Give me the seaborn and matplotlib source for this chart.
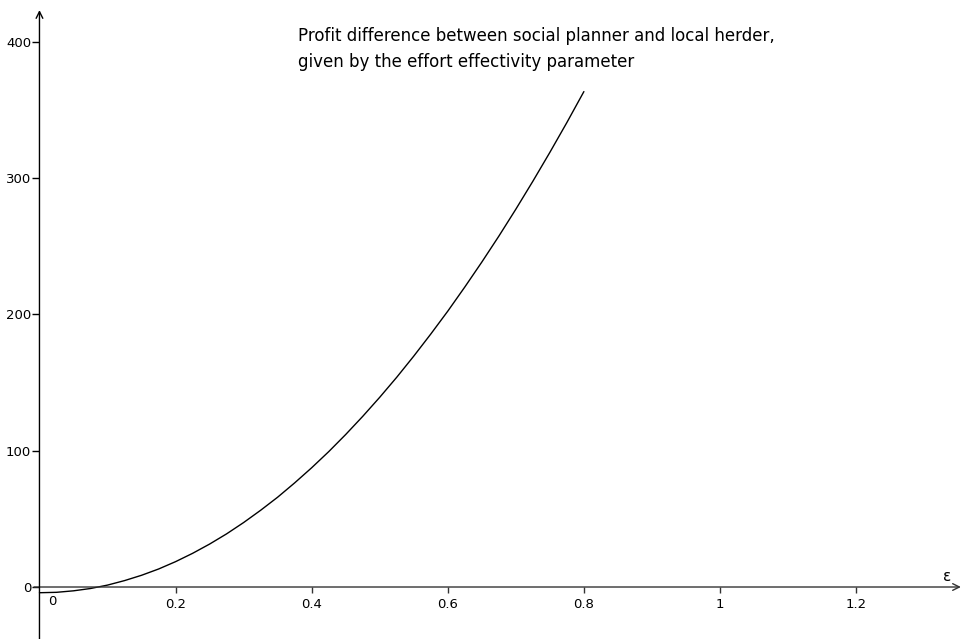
import matplotlib
matplotlib.use("Agg")
import matplotlib.pyplot as plt
import seaborn as sns
import pandas as pd

# Effort effectivity parameter and the profit difference
epsilon = [0.000, 0.025, 0.050, 0.075, 0.100, 0.125, 0.150, 0.175, 0.200,
           0.225, 0.250, 0.275, 0.300, 0.325, 0.350, 0.375, 0.400, 0.425,
           0.450, 0.475, 0.500, 0.525, 0.550, 0.575, 0.600, 0.625, 0.650,
           0.675, 0.700, 0.725, 0.750, 0.775, 0.800]
profit_diff = [-4.2, -3.9, -2.8, -1.1, 1.4, 4.7, 8.6, 13.2, 18.6,
               24.7, 31.5, 39.0, 47.3, 56.3, 65.9, 76.4, 87.5, 99.3,
               111.9, 125.2, 139.2, 153.9, 169.4, 185.6, 202.4, 220.1, 238.4,
               257.4, 277.2, 297.7, 318.9, 340.8, 363.5]

x_ticks = [0.2, 0.4, 0.6, 0.8, 1.0, 1.2]
x_tick_labels = ["0.2", "0.4", "0.6", "0.8", "1", "1.2"]
y_ticks = [0, 100, 200, 300, 400]
y_tick_labels = ["0", "100", "200", "300", "400"]

title_text = ("Profit difference between social planner and local herder,\n"
              "given by the effort effectivity parameter")

sns.set_style("white")
plt.rcParams["font.family"] = ["DejaVu Sans"]
plt.rcParams["text.color"] = "black"
plt.rcParams["xtick.labelcolor"] = "black"
plt.rcParams["ytick.labelcolor"] = "black"

df = pd.DataFrame({"epsilon": epsilon, "profit": profit_diff})

fig = plt.figure(figsize=(9.66, 6.39), dpi=100)
ax = fig.add_axes([0, 0, 1, 1])

sns.lineplot(data=df, x="epsilon", y="profit", color="black", linewidth=1.0,
             ax=ax, legend=False)

ax.set_xlim(-0.0580, 1.3615)
ax.set_ylim(-38.15, 430.7)

# Axes crossing at the origin, drawn as arrows
for side in ["top", "right", "left", "bottom"]:
    ax.spines[side].set_visible(False)
ax.spines["left"].set_position(("data", 0))
ax.spines["bottom"].set_position(("data", 0))

axis_col = "#333333"
ax.annotate("", xy=(1.354, 0), xytext=(-0.008, 0),
            arrowprops=dict(arrowstyle="->", color=axis_col, lw=1.0,
                            shrinkA=0, shrinkB=0, mutation_scale=12))
ax.annotate("", xy=(0, 423.3), xytext=(0, -38.15),
            arrowprops=dict(arrowstyle="->", color="black", lw=1.0,
                            shrinkA=0, shrinkB=0, mutation_scale=12))

ax.set_xticks(x_ticks)
ax.set_xticklabels(x_tick_labels)
ax.set_yticks(y_ticks)
ax.set_yticklabels(y_tick_labels)
ax.tick_params(axis="x", direction="out", length=4, width=1, color=axis_col,
               pad=4, labelsize=9.5, bottom=True, labelcolor="black")
ax.tick_params(axis="y", direction="out", length=5, width=1, color="black",
               pad=1, labelsize=9.5, left=True, labelcolor="black")
ax.set_xlabel("")
ax.set_ylabel("")

# Origin label on the horizontal axis
ax.text(0.012, -10.5, "0", fontsize=9.5, ha="left", va="center", color="black")

# Axis name
ax.text(1.334, 7.4, "ε", fontsize=11, ha="center", va="center", color="black")

ax.text(0.380, 394.5, title_text, fontsize=12, ha="left", va="center",
        linespacing=1.55, color="black")

fig.savefig("out.png", dpi=100)
